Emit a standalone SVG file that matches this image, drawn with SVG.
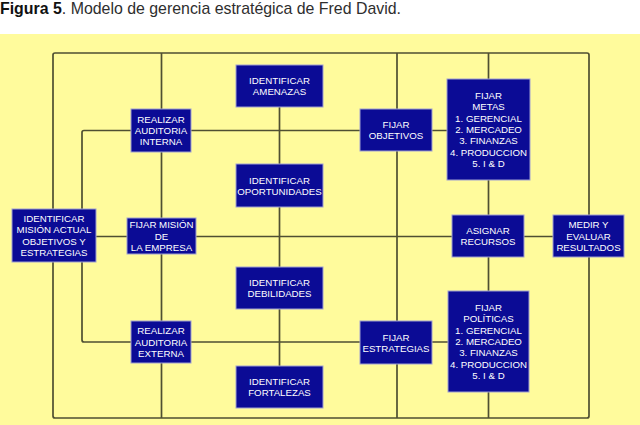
<svg xmlns="http://www.w3.org/2000/svg" width="640" height="425" viewBox="0 0 640 425">
<style>
.title{font-family:"Liberation Sans",Arial,sans-serif;font-size:15.9px;fill:#2e2e2e}
.line{fill:none;stroke:#4f4f32;stroke-width:1.7;stroke-linejoin:round}
.box{fill:#0b0b95;stroke:#a0a0d0;stroke-width:1}
.lbl{font-family:"Liberation Sans",Arial,sans-serif;font-size:9.7px;fill:#ffffff;text-anchor:middle}
</style>
<rect width="640" height="425" fill="#ffffff"/>
<text class="title" x="0" y="14"><tspan font-weight="bold" fill="#111">Figura 5</tspan>. Modelo de gerencia estratégica de Fred David.</text>
<rect x="0" y="34" width="640" height="391" fill="#fffb9c"/>
<g id="connectors">
<rect class="line" x="53" y="53" width="536" height="365" rx="2"/>
<path class="line" d="M161.5 53V418M397 53V418M488.5 53V418M279.5 107V366"/>
<path class="line" d="M448 130.5H84Q82 130.5 82 132.5V340Q82 342 84 342H448"/>
<path class="line" d="M96 236.5H553"/>
</g>
<g id="amenazas"><rect class="box" x="236" y="65" width="87" height="42"/><text class="lbl" x="279.5" y="84"><tspan x="279.5">IDENTIFICAR</tspan><tspan x="279.5" dy="11.4">AMENAZAS</tspan></text></g>
<g id="oportunidades"><rect class="box" x="236" y="164" width="87" height="43"/><text class="lbl" x="279.5" y="183.5"><tspan x="279.5">IDENTIFICAR</tspan><tspan x="279.5" dy="11.4">OPORTUNIDADES</tspan></text></g>
<g id="auditoria-interna"><rect class="box" x="131" y="109" width="60" height="43"/><text class="lbl" x="161" y="122.6"><tspan x="161">REALIZAR</tspan><tspan x="161" dy="11.4">AUDITORIA</tspan><tspan x="161" dy="11.4">INTERNA</tspan></text></g>
<g id="objetivos"><rect class="box" x="360" y="109" width="72" height="42"/><text class="lbl" x="396" y="128"><tspan x="396">FIJAR</tspan><tspan x="396" dy="11.4">OBJETIVOS</tspan></text></g>
<g id="metas"><rect class="box" x="447" y="79" width="83" height="101"/><text class="lbl" x="488.5" y="98.8"><tspan x="488.5">FIJAR</tspan><tspan x="488.5" dy="11.4">METAS</tspan><tspan x="488.5" dy="11.4">1. GERENCIAL</tspan><tspan x="488.5" dy="11.4">2. MERCADEO</tspan><tspan x="488.5" dy="11.4">3. FINANZAS</tspan><tspan x="488.5" dy="11.4">4. PRODUCCION</tspan><tspan x="488.5" dy="11.4">5. I &amp; D</tspan></text></g>
<g id="mision-actual"><rect class="box" x="12" y="209" width="84" height="53"/><text class="lbl" x="54" y="221.9"><tspan x="54">IDENTIFICAR</tspan><tspan x="54" dy="11.4">MISIÓN ACTUAL</tspan><tspan x="54" dy="11.4">OBJETIVOS Y</tspan><tspan x="54" dy="11.4">ESTRATEGIAS</tspan></text></g>
<g id="mision-empresa"><rect class="box" x="127" y="218" width="69" height="36"/><text class="lbl" x="161.5" y="228.3"><tspan x="161.5">FIJAR MISIÓN</tspan><tspan x="161.5" dy="11.4">DE</tspan><tspan x="161.5" dy="11.4">LA EMPRESA</tspan></text></g>
<g id="recursos"><rect class="box" x="452" y="215" width="72" height="42"/><text class="lbl" x="488" y="234"><tspan x="488">ASIGNAR</tspan><tspan x="488" dy="11.4">RECURSOS</tspan></text></g>
<g id="medir"><rect class="box" x="553" y="215" width="71" height="42"/><text class="lbl" x="588.5" y="228.3"><tspan x="588.5">MEDIR Y</tspan><tspan x="588.5" dy="11.4">EVALUAR</tspan><tspan x="588.5" dy="11.4">RESULTADOS</tspan></text></g>
<g id="debilidades"><rect class="box" x="236" y="267" width="87" height="42"/><text class="lbl" x="279.5" y="286"><tspan x="279.5">IDENTIFICAR</tspan><tspan x="279.5" dy="11.4">DEBILIDADES</tspan></text></g>
<g id="auditoria-externa"><rect class="box" x="131" y="321" width="60" height="42"/><text class="lbl" x="161" y="334.1"><tspan x="161">REALIZAR</tspan><tspan x="161" dy="11.4">AUDITORIA</tspan><tspan x="161" dy="11.4">EXTERNA</tspan></text></g>
<g id="estrategias"><rect class="box" x="360" y="321" width="72" height="43"/><text class="lbl" x="396" y="340.5"><tspan x="396">FIJAR</tspan><tspan x="396" dy="11.4">ESTRATEGIAS</tspan></text></g>
<g id="politicas"><rect class="box" x="448" y="291" width="81" height="101"/><text class="lbl" x="488.5" y="310.8"><tspan x="488.5">FIJAR</tspan><tspan x="488.5" dy="11.4">POLÍTICAS</tspan><tspan x="488.5" dy="11.4">1. GERENCIAL</tspan><tspan x="488.5" dy="11.4">2. MERCADEO</tspan><tspan x="488.5" dy="11.4">3. FINANZAS</tspan><tspan x="488.5" dy="11.4">4. PRODUCCION</tspan><tspan x="488.5" dy="11.4">5. I &amp; D</tspan></text></g>
<g id="fortalezas"><rect class="box" x="236" y="366" width="87" height="42"/><text class="lbl" x="279.5" y="385"><tspan x="279.5">IDENTIFICAR</tspan><tspan x="279.5" dy="11.4">FORTALEZAS</tspan></text></g>
</svg>
